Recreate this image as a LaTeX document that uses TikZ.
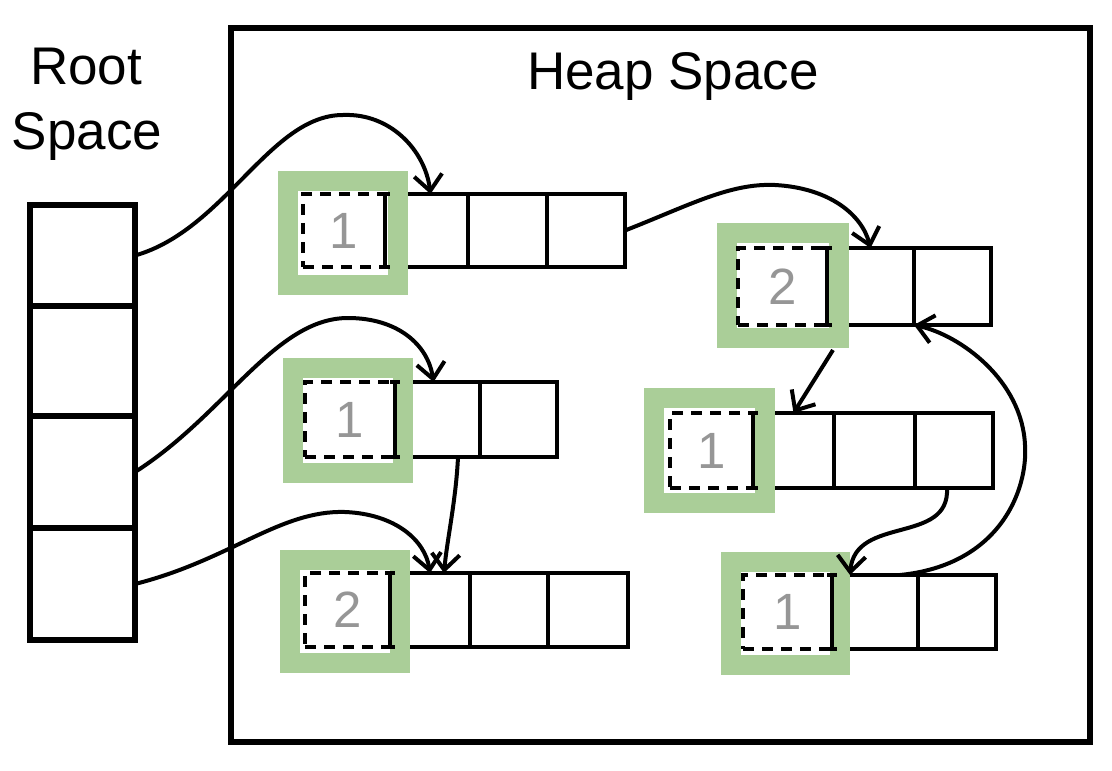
\documentclass[tikz,border=0pt]{standalone}
\usepackage{fontspec}
\setmainfont{Liberation Sans}
\usetikzlibrary{arrows.meta,calc}
\definecolor{gframe}{RGB}{170,206,152}
\definecolor{numgray}{RGB}{150,150,150}
\begin{document}
\begin{tikzpicture}[x=0.5pt,y=-0.5pt,
  cell/.style={draw, line width=2pt, inner sep=0pt, outer sep=0pt, anchor=north west},
  rootcell/.style={draw, line width=3pt, inner sep=0pt, outer sep=0pt, anchor=north west, minimum width=52.5pt},
  gbox/.style={draw=gframe, line width=10pt, inner sep=0pt, outer sep=0pt, anchor=north west},
  hdr/.style={draw, dash pattern=on 5.5pt off 4pt, line width=2.4pt, inner sep=0pt, outer sep=0pt,
     anchor=north west, text=numgray, font=\fontsize{25.5}{28}\selectfont},
  ibar/.style={draw, line width=2.2pt},
  arr/.style={draw, line width=2pt, -{Straight Barb[length=8pt,width=14pt,line width=2pt]}},
  title/.style={font=\fontsize{26.5}{30}\selectfont, anchor=base}
]
\useasboundingbox (0,0) rectangle (1112,770);

% ---- frames and titles
\node[draw, line width=3.2pt, inner sep=0pt, outer sep=0pt, anchor=north west,
      minimum width=429.5pt, minimum height=357pt] (heap) at (231,28) {};
\node[title] (heapT) at (673,90) {Heap Space};
\node[title] (rootT) at (86,85) {Root};
\node[title] (spaceT) at (87,150) {Space};

% ---- root space
\node[rootcell, minimum height=50.5pt] (r1) at (30,205) {};
\node[rootcell, minimum height=55pt] (r2) at (30,306) {};
\node[rootcell, minimum height=56pt] (r3) at (30,416) {};
\node[rootcell, minimum height=56pt] (r4) at (30,528) {};

% ---- object A (top left)
\node[cell, minimum width=41.5pt, minimum height=36.5pt] (a1) at (385,194) {};
\node[cell, minimum width=39.5pt, minimum height=36.5pt] (a2) at (468,194) {};
\node[cell, minimum width=39pt, minimum height=36.5pt] (a3) at (547,194) {};
\node[gbox, minimum width=55pt, minimum height=52pt] (aG) at (288,181) {};
\node[hdr, minimum width=41pt, minimum height=36.5pt] (aH) at (303,194) {1};
\draw[ibar] ($(aH.north east)+(-5,0)$) -- ++(10,0) (aH.north east) -- (aH.south east) ($(aH.south east)+(-5,0)$) -- ++(10,0);

% ---- object B (top right)
\node[cell, minimum width=43.5pt, minimum height=38.5pt] (b1) at (827,248) {};
\node[cell, minimum width=38.5pt, minimum height=38.5pt] (b2) at (914,248) {};
\node[gbox, minimum width=56pt, minimum height=52.5pt] (bG) at (727,233) {};
\node[hdr, minimum width=44.5pt, minimum height=38.5pt] (bH) at (738,248) {2};
\draw[ibar] ($(bH.north east)+(-5,0)$) -- ++(10,0) (bH.north east) -- (bH.south east) ($(bH.south east)+(-5,0)$) -- ++(10,0);

% ---- object C (middle left)
\node[cell, minimum width=42.5pt, minimum height=37.5pt] (c1) at (395,382) {};
\node[cell, minimum width=38.5pt, minimum height=37.5pt] (c2) at (480,382) {};
\node[gbox, minimum width=55pt, minimum height=52.5pt] (cG) at (293,368) {};
\node[hdr, minimum width=45pt, minimum height=37.5pt] (cH) at (305,382) {1};
\draw[ibar] ($(cH.north east)+(-5,0)$) -- ++(10,0) (cH.north east) -- (cH.south east) ($(cH.south east)+(-5,0)$) -- ++(10,0);

% ---- object D (middle right)
\node[cell, minimum width=40.5pt, minimum height=37.5pt] (d1) at (753,413) {};
\node[cell, minimum width=40.5pt, minimum height=37.5pt] (d2) at (834,413) {};
\node[cell, minimum width=39pt, minimum height=37.5pt] (d3) at (915,413) {};
\node[gbox, minimum width=55.5pt, minimum height=52.5pt] (dG) at (654,398) {};
\node[hdr, minimum width=41.5pt, minimum height=37.5pt] (dH) at (670,413) {1};
\draw[ibar] ($(dH.north east)+(-5,0)$) -- ++(10,0) (dH.north east) -- (dH.south east) ($(dH.south east)+(-5,0)$) -- ++(10,0);

% ---- object E (bottom right)
\node[cell, minimum width=43pt, minimum height=37pt] (e1) at (832,575) {};
\node[cell, minimum width=39pt, minimum height=37pt] (e2) at (918,575) {};
\node[gbox, minimum width=54.5pt, minimum height=51.5pt] (eG) at (731,562) {};
\node[hdr, minimum width=44.5pt, minimum height=37pt] (eH) at (743,575) {1};
\draw[ibar] ($(eH.north east)+(-5,0)$) -- ++(10,0) (eH.north east) -- (eH.south east) ($(eH.south east)+(-5,0)$) -- ++(10,0);

% ---- object F (bottom left)
\node[cell, minimum width=40pt, minimum height=37pt] (f1) at (390,573) {};
\node[cell, minimum width=39pt, minimum height=37pt] (f2) at (470,573) {};
\node[cell, minimum width=40pt, minimum height=37pt] (f3) at (548,573) {};
\node[gbox, minimum width=55pt, minimum height=51.5pt] (fG) at (290,560) {};
\node[hdr, minimum width=42.5pt, minimum height=37pt] (fH) at (305,573) {2};
\draw[ibar] ($(fH.north east)+(-5,0)$) -- ++(10,0) (fH.north east) -- (fH.south east) ($(fH.south east)+(-5,0)$) -- ++(10,0);

% ---- references
\draw[arr] (r1.east) .. controls (225,230) and (270,115) .. (343,115)
           .. controls (390,113) and (425,150) .. ($(a1.north)+(4,0)$);
\draw[arr] (r3.east) .. controls (225,415) and (275,318) .. (348,318)
           .. controls (398,318) and (428,345) .. ($(c1.north)+(-4,0)$);
\draw[arr] (r4.east) .. controls (230,560) and (280,510) .. (345,512)
           .. controls (395,514) and (425,540) .. (f1.north);
\draw[arr] (a3.east) .. controls (690,205) and (730,183) .. (775,185)
           .. controls (830,188) and (862,215) .. (b1.north);
\draw[arr] ($(c1.south east)+(-22,0)$) .. controls (456,500) and (447,540) .. ($(f1.north)+(14,0)$);
\draw[arr] ($(bG.south east)+(-6,12)$) -- (d1.north);
\draw[arr] ($(d3.south)+(-7,0)$) .. controls (950,545) and (855,515) .. ($(e1.north west)+(18,0)$);
\draw[arr] ($(e1.north east)+(-18,0)$) .. controls (1000,565) and (1028,490) .. (1025,445)
           .. controls (1022,380) and (960,335) .. (b1.south east);
\end{tikzpicture}
\end{document}
